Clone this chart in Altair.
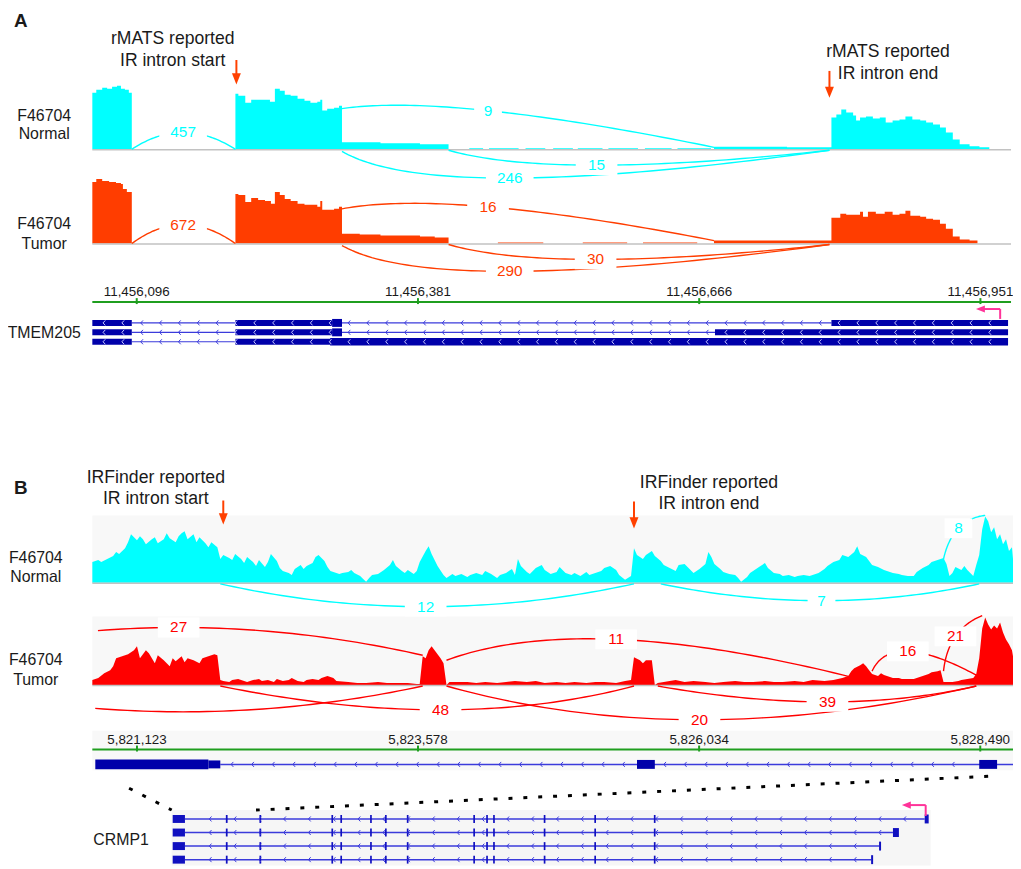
import altair as alt
import numpy as np
import pandas as pd

FONT = "Liberation Sans, Arial, Helvetica, sans-serif"
INK = "#1a1a1a"
CYAN = "#00ffff"
ORANGE_RED = "#ff3d00"
RED = "#ff0000"
ARROW = "#ff4000"
PINK = "#ff3399"
GREEN = "#1f9e1f"
EXON = "#0000aa"
INTRON = "#3b3bdb"
BASE = "#c2c2c2"
PANEL_BG = "#f8f8f8"

# ======================= DATA =======================
# ---- Panel A : TMEM205 (positions are bp offsets from A_START) ----
A_START = 11456051
A_END = 11456982
A_TICKS = [11456096, 11456381, 11456666, 11456951]
A_IR_MARKS = [146, 747]          # rMATS IR intron start / end

A_NORMAL_COV = [(0, 57), (4, 60), (10, 62), (15, 61), (20, 63), (25, 64), (29, 61), (33, 60), (37, 57), (40, 0),
                (145, 56), (148, 54), (155, 47), (161, 50), (168, 50), (175, 50), (180, 48), (185, 61), (190, 59),
                (195, 55), (201, 54), (208, 51), (215, 49), (221, 47), (228, 48), (231, 50), (233, 39), (238, 41),
                (245, 42), (250, 44), (253, 7), (271, 7), (292, 6), (312, 6), (332, 5), (347, 5), (361, 0),
                (382, 1), (396, 0), (402, 1), (432, 0), (439, 1), (459, 0), (467, 1), (487, 0), (492, 1),
                (517, 0), (523, 1), (553, 0), (560, 1), (587, 0), (593, 1), (627, 0), (630, 2.5), (704, 2),
                (749, 32), (754, 35), (759, 40), (764, 37), (771, 34), (774, 29), (778, 32), (784, 33), (791, 31),
                (798, 32), (804, 27), (811, 29), (818, 30), (824, 33), (831, 30), (839, 29), (845, 27), (852, 25),
                (859, 22), (865, 17), (872, 10), (879, 5), (889, 3), (899, 2), (909, 0)]
A_TUMOR_COV = [(0, 62), (4, 65), (10, 63), (17, 62), (24, 61), (29, 60), (31, 55), (35, 52), (40, 0),
               (145, 50), (148, 49), (155, 42), (161, 46), (168, 44), (175, 43), (181, 40), (185, 52), (190, 49),
               (195, 45), (201, 43), (208, 40), (215, 39), (221, 39), (228, 37), (231, 43), (233, 34), (238, 34),
               (245, 35), (250, 37), (253, 10), (271, 9), (292, 8), (312, 8), (332, 7), (347, 6), (361, 0),
               (411, 1), (457, 0), (497, 1), (542, 0), (558, 1), (613, 0), (630, 3), (704, 3),
               (749, 26), (758, 30), (764, 29), (771, 29), (778, 32), (781, 27), (786, 32), (794, 30), (803, 32),
               (811, 29), (818, 30), (824, 33), (829, 28), (839, 27), (845, 25), (852, 24), (859, 20), (865, 15),
               (872, 7), (879, 4), (889, 3), (897, 0)]
# (start, end, start height, end height, label pos, label height, reads)
A_NORMAL_JUNC = [(40, 145, 0, 0, 92, 17, 457), (253, 630, 41, 2, 401, 39, 9),
                 (361, 747, -1, -1, 511, -16, 15), (253, 747, -2, -1, 423, -29, 246)]
A_TUMOR_JUNC = [(40, 145, 0, 0, 92, 19, 672), (253, 630, 35, 3, 401, 37, 16),
                (361, 747, -1, -1, 510, -16, 30), (253, 747, -2, -1, 423, -28, 290)]
# TMEM205 transcripts: (row, start, end, thickness)
TMEM205_EXONS = [(0, 0, 40, 6), (0, 145, 243, 6), (0, 243, 253, 8), (0, 749, 928, 6),
                 (1, 0, 40, 6), (1, 145, 243, 6), (1, 243, 253, 8), (1, 631, 928, 6),
                 (2, 0, 40, 6), (2, 145, 241, 6), (2, 241, 928, 7.5)]
TMEM205_INTRONS = [(0, 40, 749), (1, 40, 631), (2, 40, 145)]
TMEM205_TSS = 920

# ---- Panel B : CRMP1 (positions are bp offsets from B_START) ----
B_START = 5820733
B_END = 5828776
B_TICKS = [5821123, 5823578, 5826034, 5828490]
B_IR_MARKS = [1144, 4732]        # IRFinder IR intron start / end

B_NORMAL_COV = [(0, 21), (52, 23), (78, 21), (130, 24), (182, 27), (208, 31), (234, 29), (286, 35), (312, 41), (338, 49),
                (390, 43), (416, 47), (442, 44), (468, 39), (520, 44), (546, 46), (572, 40), (624, 44), (650, 50), (676, 45),
                (728, 41), (754, 47), (780, 50), (806, 52), (832, 44), (884, 49), (910, 41), (936, 46), (988, 40), (1014, 36),
                (1040, 41), (1092, 36), (1118, 24), (1144, 28), (1196, 25), (1222, 23), (1248, 29), (1300, 24), (1326, 20),
                (1352, 26), (1404, 21), (1430, 17), (1456, 23), (1508, 16), (1534, 21), (1560, 29), (1612, 22), (1638, 15),
                (1664, 12), (1716, 10), (1742, 8), (1768, 14), (1820, 18), (1846, 14), (1872, 17), (1924, 20), (1950, 26),
                (1976, 28), (2028, 22), (2054, 16), (2080, 12), (2132, 10), (2158, 9), (2184, 10), (2236, 11), (2262, 13),
                (2288, 10), (2340, 7), (2366, 4), (2392, 1), (2418, 5), (2444, 8), (2496, 9), (2522, 11), (2548, 13),
                (2600, 18), (2626, 23), (2652, 17), (2704, 12), (2730, 10), (2756, 13), (2808, 9), (2834, 12), (2860, 21),
                (2912, 32), (2938, 37), (2964, 29), (2990, 23), (3016, 17), (3068, 8), (3094, 5), (3146, 9), (3172, 7),
                (3224, 9), (3276, 6), (3302, 8), (3354, 10), (3406, 8), (3432, 12), (3484, 9), (3536, 5), (3562, 8),
                (3614, 10), (3666, 14), (3692, 8), (3718, 24), (3744, 17), (3796, 11), (3822, 9), (3874, 15), (3926, 18),
                (3952, 13), (4004, 9), (4056, 11), (4082, 16), (4134, 10), (4186, 8), (4212, 10), (4264, 7), (4316, 11),
                (4342, 8), (4394, 10), (4446, 12), (4472, 15), (4524, 17), (4576, 13), (4602, 8), (4654, 3), (4706, 7),
                (4732, 35), (4758, 28), (4810, 24), (4836, 28), (4888, 32), (4914, 27), (4966, 22), (4992, 18), (5044, 15),
                (5096, 12), (5122, 18), (5174, 19), (5226, 13), (5252, 10), (5304, 14), (5356, 19), (5382, 31), (5408, 26),
                (5434, 19), (5486, 14), (5512, 11), (5564, 9), (5616, 8), (5642, 5), (5668, 1), (5720, 6), (5746, 10),
                (5772, 12), (5824, 16), (5876, 20), (5902, 15), (5954, 10), (6006, 9), (6032, 7), (6084, 8), (6136, 6),
                (6162, 7), (6214, 8), (6266, 7), (6292, 8), (6344, 10), (6396, 14), (6422, 17), (6474, 21), (6526, 23),
                (6552, 28), (6604, 26), (6656, 31), (6682, 37), (6708, 29), (6760, 26), (6786, 22), (6812, 18), (6864, 16),
                (6916, 13), (6942, 12), (6994, 10), (7046, 9), (7072, 8), (7124, 7), (7176, 7), (7202, 11), (7254, 15),
                (7306, 18), (7332, 21), (7384, 23), (7436, 25), (7462, 19), (7488, 7), (7514, 10), (7540, 16), (7592, 13),
                (7618, 17), (7644, 13), (7696, 7), (7722, 18), (7748, 28), (7774, 54), (7800, 67), (7826, 62), (7852, 51),
                (7878, 56), (7904, 44), (7930, 49), (7956, 39), (7982, 44), (8008, 32), (8034, 36), (8043, 24)]
B_TUMOR_COV = [(0, 5), (52, 7), (104, 12), (156, 15), (182, 19), (208, 27), (260, 29), (312, 31), (364, 35), (390, 39),
               (416, 27), (468, 35), (494, 32), (546, 22), (572, 30), (624, 25), (676, 19), (702, 27), (728, 24), (780, 29),
               (806, 23), (832, 27), (884, 25), (936, 22), (962, 27), (1014, 29), (1066, 31), (1092, 30), (1118, 5),
               (1144, 4), (1196, 3), (1222, 5), (1274, 6), (1326, 4), (1352, 3), (1404, 5), (1456, 6), (1482, 4),
               (1534, 5), (1586, 3), (1612, 6), (1664, 4), (1716, 5), (1742, 7), (1794, 4), (1846, 3), (1872, 5),
               (1924, 6), (1976, 5), (2002, 7), (2054, 9), (2106, 7), (2132, 4), (2236, 3), (2314, 2), (2392, 2),
               (2496, 3), (2574, 2), (2652, 2), (2756, 2), (2834, 1), (2860, 1), (2886, 29), (2912, 27), (2938, 35),
               (2964, 39), (2990, 35), (3042, 27), (3068, 22), (3094, 0), (3120, 3), (3172, 3), (3276, 3), (3354, 2),
               (3432, 3), (3536, 2), (3614, 3), (3692, 4), (3796, 3), (3874, 4), (3952, 2), (4056, 3), (4134, 2),
               (4212, 3), (4316, 2), (4394, 3), (4472, 3), (4576, 2), (4654, 4), (4706, 5), (4732, 28), (4784, 25),
               (4810, 22), (4836, 25), (4888, 25), (4914, 0), (4940, 2), (4992, 3), (5096, 5), (5174, 3), (5252, 4),
               (5356, 3), (5434, 2), (5512, 3), (5616, 4), (5694, 3), (5772, 3), (5876, 4), (5954, 3), (6032, 3),
               (6136, 4), (6214, 3), (6292, 5), (6396, 4), (6474, 5), (6552, 7), (6604, 9), (6630, 14), (6656, 17),
               (6708, 20), (6734, 22), (6760, 19), (6786, 15), (6812, 11), (6864, 9), (6890, 12), (6916, 10), (6968, 8),
               (6994, 7), (7046, 7), (7072, 6), (7124, 6), (7176, 6), (7202, 7), (7254, 9), (7306, 11), (7332, 13),
               (7384, 14), (7410, 15), (7436, 3), (7488, 3), (7514, 3), (7566, 4), (7592, 5), (7644, 6), (7696, 7),
               (7722, 11), (7748, 27), (7774, 57), (7800, 68), (7826, 61), (7852, 56), (7878, 60), (7904, 57),
               (7930, 63), (7956, 53), (7982, 46), (8008, 41), (8034, 35), (8043, 29)]
B_NORMAL_JUNC = [(1118, 4732, -1, -1, 2912, -24, 12), (4966, 7748, -1, -1, 6370, -18, 7),
                 (7436, 7800, 24, 68, 7566, 55, 8)]
B_TUMOR_JUNC = [(-1352, 2886, 30, 30, 754, 58, 27), (-1300, 2886, -1, -1, 793, -27, None),
                (3094, 6630, 25, 8, 4576, 46, 11), (6812, 7722, 14, 10, 7124, 34, 16),
                (7436, 7774, 14, 70, 7540, 49, 21), (1118, 4732, -1, -1, 3042, -25, 48),
                (3094, 7722, -1, -1, 5304, -35, 20), (4940, 7722, -1, -1, 6422, -17, 39)]
# zoomed CRMP1 annotation (start, end, thickness)
CRMP1_ZOOM_EXONS = [(26, 1014, 10), (1014, 1118, 8), (4758, 4914, 9), (7748, 7904, 9)]
CRMP1_ZOOM_INTRON = (1118, 8043)
# whole-gene CRMP1 view
G_START, G_END = B_START - 62, B_START + 67488
CRMP1_COMMON_EXON_START = [26, 4758, 7748, 14154, 14949, 17598, 18923, 20865, 26781, 27929, 28547, 33051, 37554, 42852]
CRMP1_COMMON_EXON_END = [1118, 4914, 7904, 14304, 15099, 17748, 19073, 21015, 26931, 28079, 28697, 33201, 37704, 43002]
CRMP1_LAST_EXON_START = [66958, 64132, 62896, 62189]
CRMP1_LAST_EXON_END = [67311, 64662, 63073, 62366]
CRMP1_TSS = 67046
ZOOM_LINK_B = [321, 7826]
ZOOM_LINK_G = [-62, 7444]

# ======================= HELPERS =======================
def R(v):
    return v - 8


def lin(domain, r0, r1):
    return alt.Scale(domain=list(domain), range=[R(r0), R(r1)], nice=False, zero=False)


def px(v, d0, d1, r0, r1):
    return r0 + (v - d0) * (r1 - r0) / (d1 - d0)


XA = lin([A_START, A_END], 93, 1019)
XB = lin([B_START, B_END], 93, 1021)
XG = lin([G_START, G_END], 173, 938)
Y_AN = lin([0, 64], 147, 83)
Y_AT = lin([0, 64], 242, 178)
Y_BN = lin([0, 68], 584, 516)
Y_BT = lin([0, 70], 687, 617)


def X(f, sc):
    return alt.X(f, type="quantitative", scale=sc, axis=None)


def Y(f, sc):
    return alt.Y(f, type="quantitative", scale=sc, axis=None)


def one():
    return pd.DataFrame({"a": [0]})


def text(s, x, y, size, weight="normal", color=INK):
    return alt.Chart(pd.DataFrame({"t": [s]})).mark_text(
        font=FONT, fontSize=size, fontWeight=weight, color=color, align="center", baseline="middle"
    ).encode(x=alt.value(R(x)), y=alt.value(R(y)), text="t:N")


def coverage(pairs, start, xsc, ysc, color, interp):
    df = pd.DataFrame(pairs, columns=["off", "cov"])
    df["pos"] = df["off"] + start
    df["zero"] = 0.0
    return alt.Chart(df).mark_area(color=color, interpolate=interp, opacity=1).encode(
        x=X("pos", xsc), y=Y("cov", ysc), y2=alt.Y2("zero"))


def baseline(start, end, xsc, ysc):
    df = pd.DataFrame({"s": [start], "e": [end], "y": [-0.5]})
    return alt.Chart(df).mark_rule(color=BASE, strokeWidth=1.5).encode(
        x=X("s", xsc), x2="e", y=Y("y", ysc))


def track_bg(start, end, top, xsc, ysc):
    df = pd.DataFrame({"s": [start], "e": [end], "y0": [0], "y1": [top]})
    return alt.Chart(df).mark_rect(color=PANEL_BG).encode(
        x=X("s", xsc), x2="e", y=Y("y0", ysc), y2="y1")


T = np.linspace(0, 1, 61)
BOX_W = {1: 28, 2: 42, 3: 48}
BOX_H = 20


def arcs(junctions, start, xsc, ysc, color):
    pts, labs = [], []
    for j, (s, e, h0, h1, mx, my, n) in enumerate(junctions):
        cx = 2 * mx - (s + e) / 2
        cy = 2 * my - (h0 + h1) / 2
        xs = (1 - T) ** 2 * s + 2 * T * (1 - T) * cx + T ** 2 * e
        ys = (1 - T) ** 2 * h0 + 2 * T * (1 - T) * cy + T ** 2 * h1
        for k in range(len(T)):
            if xs[k] >= 0:
                pts.append({"j": j, "k": k, "pos": start + xs[k], "h": ys[k]})
        if n is not None:
            lab = str(n)
            w = BOX_W[len(lab)]
            hh = BOX_H / w
            labs.append({"pos": start + mx, "h": my, "lbl": lab, "sz": w * w,
                         "shp": f"M-1,{-hh:.4f}L1,{-hh:.4f}L1,{hh:.4f}L-1,{hh:.4f}Z"})
    lines = alt.Chart(pd.DataFrame(pts)).mark_line(color=color, strokeWidth=1.4).encode(
        x=X("pos", xsc), y=Y("h", ysc), detail="j:N", order="k:Q")
    ldf = pd.DataFrame(labs)
    boxes = alt.Chart(ldf).mark_point(filled=True, color="white", opacity=1, strokeWidth=0).encode(
        x=X("pos", xsc), y=Y("h", ysc),
        shape=alt.Shape("shp:N", scale=None), size=alt.Size("sz:Q", scale=None))
    labels = alt.Chart(ldf).mark_text(font=FONT, fontSize=15.5, color=color, align="center",
                                      baseline="middle").encode(
        x=X("pos", xsc), y=Y("h", ysc), text="lbl:N")
    return [lines, boxes, labels]


def genome_axis(start, end, ticks, xsc, y_line, y_label):
    line = alt.Chart(pd.DataFrame({"s": [start], "e": [end]})).mark_rule(
        color=GREEN, strokeWidth=2).encode(x=X("s", xsc), x2="e", y=alt.value(R(y_line)))
    tdf = pd.DataFrame({"t": ticks, "lbl": [f"{v:,}" for v in ticks]})
    tk = alt.Chart(tdf).mark_rule(color=GREEN, strokeWidth=2).encode(
        x=X("t", xsc), y=alt.value(R(y_line - 4)), y2=alt.value(R(y_line + 2)))
    lb = alt.Chart(tdf).mark_text(font=FONT, fontSize=13.5, color=INK, align="center",
                                  baseline="middle").encode(
        x=X("t", xsc), y=alt.value(R(y_label)), text="lbl:N")
    return [line, tk, lb]


def rows_scale(y_first, y_last, n):
    if n == 1:
        return lin([0, 1], y_first, y_first + 1)
    return lin([0, n - 1], y_first, y_last)


CHEV = "M0.45,-1L-0.45,0L0.45,1"
HEAD_DOWN = "M-1,-1.25L1,-1.25L0,1.25Z"
HEAD_LEFT = "M-1,0L1,-0.8L1,0.8Z"


def exon_rules(df, xsc, ysc, color):
    return alt.Chart(df).mark_rule(color=color, strokeCap="butt").encode(
        x=X("s", xsc), x2="e", y=Y("row", ysc), strokeWidth=alt.StrokeWidth("w:Q", scale=None))


def intron_rules(df, xsc, ysc, width=1.2):
    return alt.Chart(df).mark_rule(color=INTRON, strokeWidth=width).encode(
        x=X("s", xsc), x2="e", y=Y("row", ysc))


def chevrons(df, xsc, ysc, size=25):
    return alt.Chart(df).mark_point(shape=CHEV, size=size, filled=False, opacity=1, strokeWidth=1).encode(
        x=X("pos", xsc), y=Y("row", ysc), color=alt.Color("c:N", scale=None))


def ir_arrow(pos, xsc, y_top, y_head):
    df = pd.DataFrame({"p": [pos]})
    shaft = alt.Chart(df).mark_rule(color=ARROW, strokeWidth=2).encode(
        x=X("p", xsc), y=alt.value(R(y_top)), y2=alt.value(R(y_head)))
    head = alt.Chart(df).mark_point(shape=HEAD_DOWN, size=81, filled=True, color=ARROW, opacity=1).encode(
        x=X("p", xsc), y=alt.value(R(y_head)))
    return [shaft, head]


def tss_arrow(pos, head_pos, xsc, y_from, y_to):
    df = pd.DataFrame({"p": [pos], "hc": [head_pos]})
    v = alt.Chart(df).mark_rule(color=PINK, strokeWidth=2).encode(
        x=X("p", xsc), y=alt.value(R(y_from)), y2=alt.value(R(y_to)))
    h = alt.Chart(df).mark_rule(color=PINK, strokeWidth=2).encode(
        x=X("p", xsc), x2="hc", y=alt.value(R(y_to)))
    hd = alt.Chart(df).mark_point(shape=HEAD_LEFT, size=81, filled=True, color=PINK, opacity=1).encode(
        x=X("hc", xsc), y=alt.value(R(y_to)))
    return [v, h, hd]


layers = []

# ---------- backgrounds (panel B) ----------
layers.append(track_bg(B_START, B_END, 68, XB, Y_BN))
layers.append(track_bg(B_START, B_END, 69, XB, Y_BT))
layers.append(alt.Chart(pd.DataFrame({"s": [B_START], "e": [B_END]})).mark_rect(color=PANEL_BG).encode(
    x=X("s", XB), x2="e", y=alt.value(R(733)), y2=alt.value(R(773))))
layers.append(alt.Chart(pd.DataFrame({"s": [G_START], "e": [G_END]})).mark_rect(color="#f6f6f6").encode(
    x=X("s", XG), x2="e", y=alt.value(R(813)), y2=alt.value(R(869))))

# ---------- coverage ----------
layers.append(coverage(A_NORMAL_COV, A_START, XA, Y_AN, CYAN, "step-after"))
layers.append(coverage(A_TUMOR_COV, A_START, XA, Y_AT, ORANGE_RED, "step-after"))
layers.append(coverage(B_NORMAL_COV, B_START, XB, Y_BN, CYAN, "linear"))
layers.append(coverage(B_TUMOR_COV, B_START, XB, Y_BT, RED, "linear"))
layers.append(baseline(A_START, A_END, XA, Y_AN))
layers.append(baseline(A_START, A_END, XA, Y_AT))
layers.append(baseline(B_START, B_END, XB, Y_BN))
layers.append(baseline(B_START, B_END, XB, Y_BT))

# ---------- junction arcs ----------
layers += arcs(A_NORMAL_JUNC, A_START, XA, Y_AN, CYAN)
layers += arcs(A_TUMOR_JUNC, A_START, XA, Y_AT, ORANGE_RED)
layers += arcs(B_NORMAL_JUNC, B_START, XB, Y_BN, CYAN)
layers += arcs(B_TUMOR_JUNC, B_START, XB, Y_BT, RED)

# ---------- genomic axes ----------
layers += genome_axis(A_START, A_END, A_TICKS, XA, 301, 291)
layers += genome_axis(B_START, B_END, B_TICKS, XB, 752, 742)

# ---------- TMEM205 model ----------
YA_ROWS = rows_scale(322, 341, 3)
ex = pd.DataFrame(TMEM205_EXONS, columns=["row", "s", "e", "w"])
ex["s"] += A_START
ex["e"] += A_START
intr = pd.DataFrame(TMEM205_INTRONS, columns=["row", "s", "e"])
intr["s"] += A_START
intr["e"] += A_START
layers.append(intron_rules(intr, XA, YA_ROWS))
layers.append(exon_rules(ex, XA, YA_ROWS, EXON))
chev = []
for r in range(3):
    for p in np.arange(12, 921, 19.1):
        inside = any(rw == r and s <= p <= e for rw, s, e, _ in TMEM205_EXONS)
        chev.append({"row": r, "pos": A_START + p, "c": "#c8c8ff" if inside else INTRON})
layers.append(chevrons(pd.DataFrame(chev), XA, YA_ROWS))
layers += tss_arrow(A_START + TMEM205_TSS, A_START + 900, XA, 318, 308)

# ---------- CRMP1 zoomed model ----------
YB_ROW = rows_scale(767, 767, 1)
zi = pd.DataFrame({"row": [0], "s": [B_START + CRMP1_ZOOM_INTRON[0]], "e": [B_START + CRMP1_ZOOM_INTRON[1]]})
layers.append(intron_rules(zi, XB, YB_ROW, 1.5))
ze = pd.DataFrame(CRMP1_ZOOM_EXONS, columns=["s", "e", "w"])
ze["row"] = 0
ze["s"] += B_START
ze["e"] += B_START
layers.append(exon_rules(ze, XB, YB_ROW, EXON))
zc = [{"row": 0, "pos": B_START + p, "c": INTRON} for p in np.arange(1222, 8043, 180)
      if not any(s - 60 <= p <= e + 60 for s, e, _ in CRMP1_ZOOM_EXONS)]
layers.append(chevrons(pd.DataFrame(zc), XB, YB_ROW))

# ---------- CRMP1 whole-gene model ----------
YG_ROWS = rows_scale(822, 863, 4)
gi, ge, gc = [], [], []
for r in range(4):
    gi.append({"row": r, "s": B_START + CRMP1_COMMON_EXON_END[0], "e": B_START + CRMP1_LAST_EXON_START[r]})
    for s, e in zip(CRMP1_COMMON_EXON_START, CRMP1_COMMON_EXON_END):
        ge.append({"row": r, "s": B_START + s, "e": B_START + e, "w": 8})
    ge.append({"row": r, "s": B_START + CRMP1_LAST_EXON_START[r], "e": B_START + CRMP1_LAST_EXON_END[r], "w": 9})
    for p in np.arange(1174 + 2207.5, CRMP1_LAST_EXON_START[r] - 600, 2207.5):
        gc.append({"row": r, "pos": B_START + p, "c": INTRON})
layers.append(intron_rules(pd.DataFrame(gi), XG, YG_ROWS, 1.5))
layers.append(exon_rules(pd.DataFrame(ge), XG, YG_ROWS, "#1010c0"))
layers.append(chevrons(pd.DataFrame(gc), XG, YG_ROWS))
layers += tss_arrow(B_START + CRMP1_TSS, B_START + 65324, XG, 819, 808)

# ---------- zoom connectors ----------
for (bo, go), (yb, yg) in zip(zip(ZOOM_LINK_B, ZOOM_LINK_G), [(791, 813), (779, 813)]):
    xb = px(B_START + bo, B_START, B_END, 93, 1021)
    xg = px(B_START + go, G_START, G_END, 173, 938)
    layers.append(alt.Chart(one()).mark_rule(color="black", strokeWidth=3, strokeDash=[4, 11]).encode(
        x=alt.value(R(xb)), y=alt.value(R(yb)), x2=alt.value(R(xg)), y2=alt.value(R(yg))))

# ---------- IR annotation arrows ----------
layers += ir_arrow(A_START + A_IR_MARKS[0], XA, 57, 76)
layers += ir_arrow(A_START + A_IR_MARKS[1], XA, 68, 89.5)
layers += ir_arrow(B_START + B_IR_MARKS[0], XB, 501, 519.5)
layers += ir_arrow(B_START + B_IR_MARKS[1], XB, 502, 523.5)

# ---------- texts ----------
layers += [
    text("A", 21, 18, 19, "bold"),
    text("rMATS reported", 174, 36, 17.7), text("IR intron start", 174, 58, 17.7),
    text("rMATS reported", 895, 49, 17.7), text("IR intron end", 895, 71, 17.7),
    text("F46704", 44.5, 113, 16), text("Normal", 44.5, 132, 16),
    text("F46704", 44.5, 222, 16), text("Tumor", 44.5, 242, 16),
    text("TMEM205", 44.5, 332, 16),
    text("B", 21, 488, 19, "bold"),
    text("IRFinder reported", 157, 478, 17.8), text("IR intron start", 157, 500, 17.8),
    text("IRFinder reported", 714.5, 483, 17.8), text("IR intron end", 714.5, 505, 17.8),
    text("F46704", 36, 559, 16), text("Normal", 36, 578, 16),
    text("F46704", 36, 662, 16), text("Tumor", 36, 682, 16),
    text("CRMP1", 122, 843, 16),
]

chart = alt.layer(*layers).resolve_scale(
    x="independent", y="independent", color="independent", shape="independent",
    size="independent", strokeWidth="independent"
).properties(
    width=1013, height=861, padding=0, autosize=alt.AutoSizeParams(type="none"), background="white"
).configure_view(stroke=None)

chart.save("out.html", embed_options={"renderer": "svg", "actions": False})
